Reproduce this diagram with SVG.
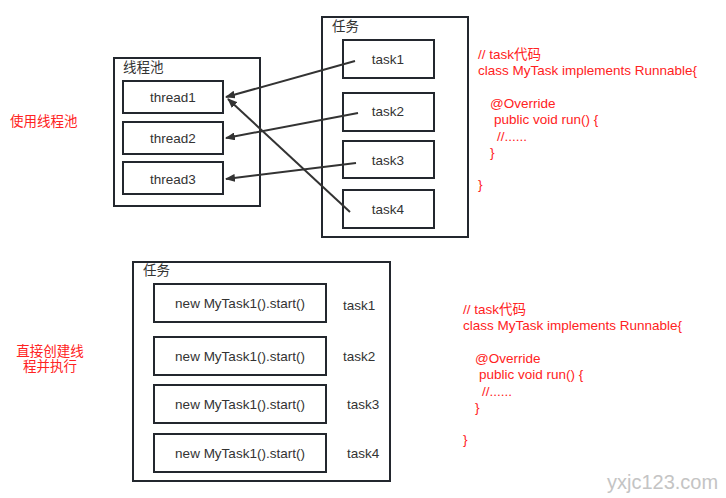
<svg xmlns="http://www.w3.org/2000/svg" width="726" height="498" viewBox="0 0 726 498">
<style>
text{font-family:"Liberation Sans","Noto Sans CJK SC",sans-serif;font-size:13.5px;fill:#333}
.box{fill:#fff;stroke:#23272e;stroke-width:2}
.c{text-anchor:middle}
.red{fill:#ff2222}
.conn line{stroke:#333;stroke-width:2;marker-end:url(#ah)}
</style>
<defs>
<marker id="ah" markerWidth="10" markerHeight="8" refX="9" refY="4" orient="auto" markerUnits="userSpaceOnUse">
<path d="M0,0 L10,4 L0,8 Z" fill="#333"/>
</marker>
</defs>
<rect width="726" height="498" fill="#fff"/>

<g id="pool">
<rect class="box" x="114" y="58" width="146" height="148"/>
<text x="123" y="72">线程池</text>
</g>
<g id="thread1"><rect class="box" x="123" y="81" width="100" height="32"/><text class="c" x="173" y="102">thread1</text></g>
<g id="thread2"><rect class="box" x="123" y="122" width="100" height="32"/><text class="c" x="173" y="143">thread2</text></g>
<g id="thread3"><rect class="box" x="123" y="162" width="100" height="32"/><text class="c" x="173" y="184">thread3</text></g>

<g id="tasks">
<rect class="box" x="322" y="17" width="146" height="220"/>
<text x="332" y="31">任务</text>
</g>
<g id="task1"><rect class="box" x="343" y="40" width="91" height="38"/><text class="c" x="388" y="64">task1</text></g>
<g id="task2"><rect class="box" x="343" y="93" width="91" height="38"/><text class="c" x="388" y="116">task2</text></g>
<g id="task3"><rect class="box" x="343" y="141" width="91" height="37"/><text class="c" x="388" y="165">task3</text></g>
<g id="task4"><rect class="box" x="343" y="190" width="91" height="38"/><text class="c" x="388" y="214">task4</text></g>

<g class="conn" id="connectors">
<line x1="355" y1="61" x2="226" y2="97"/>
<line x1="358" y1="113" x2="226" y2="138"/>
<line x1="356" y1="163" x2="226" y2="179"/>
<line x1="350" y1="212" x2="228" y2="99"/>
</g>

<g id="label-pool"><text class="red" x="10" y="126">使用线程池</text></g>

<g id="code1">
<text class="red" x="478" y="59">// task代码</text>
<text class="red" x="478" y="75">class MyTask implements Runnable{</text>
<text class="red" x="490" y="108">@Override</text>
<text class="red" x="494" y="124">public void run() {</text>
<text class="red" x="497" y="141">//......</text>
<text class="red" x="490" y="157">}</text>
<text class="red" x="478" y="189">}</text>
</g>

<g id="direct">
<rect class="box" x="133" y="262" width="257" height="219"/>
<text x="143" y="275">任务</text>
</g>
<g id="new1"><rect class="box" x="154" y="284" width="172" height="38"/><text class="c" x="240" y="308">new MyTask1().start()</text></g>
<g id="new2"><rect class="box" x="154" y="337" width="172" height="38"/><text class="c" x="240" y="361">new MyTask1().start()</text></g>
<g id="new3"><rect class="box" x="154" y="385" width="172" height="38"/><text class="c" x="240" y="409">new MyTask1().start()</text></g>
<g id="new4"><rect class="box" x="154" y="434" width="172" height="38"/><text class="c" x="240" y="458">new MyTask1().start()</text></g>
<text x="343" y="310">task1</text>
<text x="343" y="361">task2</text>
<text x="347" y="409">task3</text>
<text x="347" y="458">task4</text>

<g id="label-direct">
<text class="red c" x="50" y="356">直接创建线</text>
<text class="red c" x="50" y="371">程并执行</text>
</g>

<g id="code2">
<text class="red" x="463" y="314">// task代码</text>
<text class="red" x="463" y="330">class MyTask implements Runnable{</text>
<text class="red" x="475" y="363">@Override</text>
<text class="red" x="479" y="379">public void run() {</text>
<text class="red" x="482" y="396">//......</text>
<text class="red" x="475" y="412">}</text>
<text class="red" x="463" y="444">}</text>
</g>

<text x="607" y="489" style="font-size:20px;fill:#c4c4c4">yxjc123.com</text>
</svg>
